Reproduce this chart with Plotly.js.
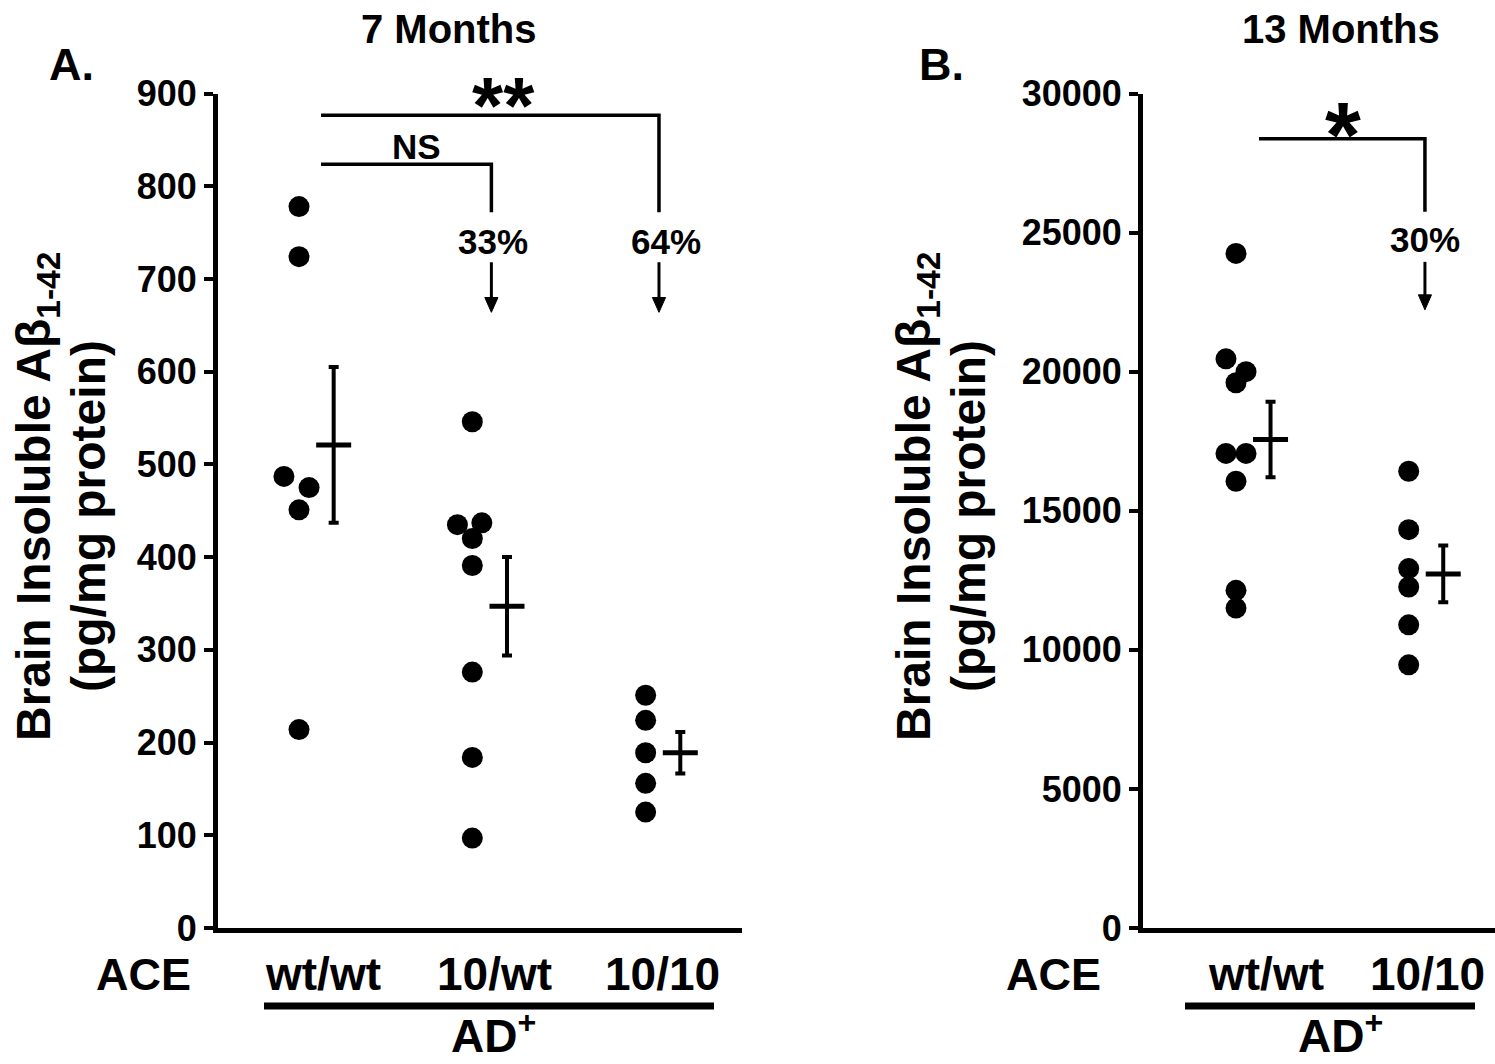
<!DOCTYPE html>
<html>
<head>
<meta charset="utf-8">
<script src="https://cdn.plot.ly/plotly-3.0.1.min.js"></script>
<style>html,body{margin:0;padding:0;background:#ffffff;}</style>
</head>
<body>
<div id="chart" style="width:1495px;height:1064px;"></div>
<script>
// ---------------- DATA ----------------
// Panel A: 7 months
const groupsA = ['wt/wt', '10/wt', '10/10'];
const valuesA_wtwt = [778, 724, 487, 475, 451, 214];
const valuesA_10wt = [546, 437, 435, 420, 391, 276, 184, 97];
const valuesA_1010 = [251, 224, 189, 156, 125];
const meanA = [521, 347, 189];
const semA = [84, 53, 22.5];
const yTicksA = [0, 100, 200, 300, 400, 500, 600, 700, 800, 900];

// Panel B: 13 months
const groupsB = ['wt/wt', '10/10'];
const valuesB_wtwt = [24250, 20460, 20000, 19600, 17060, 17060, 16060, 12140, 11500];
const valuesB_1010 = [16420, 14320, 12920, 12260, 10900, 9460];
const meanB = [17560, 12730];
const semB = [1357, 1020];
const yTicksB = [0, 5000, 10000, 15000, 20000, 25000, 30000];

// Annotation texts
const pctA = ['33%', '64%'];
const pctB = ['30%'];

// ---------------- LAYOUT HELPERS (positions / styles) ----------------
const W = 1495, H = 1064;
const FONT = 'Liberation Sans, Arial, Helvetica, sans-serif';
const px = v => v / W;
const py = v => 1 - v / H;

// horizontal side-by-side offsets of overlapping dots (in category units)
const offA = [
  [0, 0, -0.087, 0.058, 0, 0],
  [0, 0.055, -0.086, 0, 0, 0, 0, 0],
  [0, 0, 0, 0, 0]
];
const offB = [
  [0, -0.058, 0.058, 0, -0.058, 0.058, 0, 0, 0],
  [0, 0, 0, 0, 0, 0]
];
const errShift = 0.2;

function dotTrace(groupVals, offs, xa, ya) {
  const x = [], y = [];
  groupVals.forEach((vals, gi) => {
    vals.forEach((v, i) => { x.push(gi + 1 + offs[gi][i]); y.push(v); });
  });
  return {
    type: 'scatter', mode: 'markers', x: x, y: y, xaxis: xa, yaxis: ya,
    marker: {color: 'black', size: 21, line: {width: 0}},
    cliponaxis: false, hoverinfo: 'skip'
  };
}
function meanTrace(means, sems, xa, ya) {
  return {
    type: 'scatter', mode: 'markers',
    x: means.map((m, i) => i + 1 + errShift), y: means, xaxis: xa, yaxis: ya,
    marker: {symbol: 'line-ew', size: 25, color: 'black', line: {color: 'black', width: 5}},
    error_y: {type: 'data', array: sems, visible: true, color: 'black', thickness: 4, width: 5},
    cliponaxis: false, hoverinfo: 'skip'
  };
}

const traces = [
  dotTrace([valuesA_wtwt, valuesA_10wt, valuesA_1010], offA, 'x', 'y'),
  meanTrace(meanA, semA, 'x', 'y'),
  dotTrace([valuesB_wtwt, valuesB_1010], offB, 'x2', 'y2'),
  meanTrace(meanB, semB, 'x2', 'y2')
];

const axisCommonX = {
  showgrid: false, zeroline: false, showline: true, linewidth: 5, linecolor: 'black',
  ticks: '', showticklabels: false, fixedrange: true
};
const axisCommonY = {
  showgrid: false, zeroline: false, showline: true, linewidth: 5, linecolor: 'black',
  ticks: 'outside', ticklen: 9, tickwidth: 4, tickcolor: 'black', fixedrange: true,
  tickformat: 'd', separatethousands: false, exponentformat: 'none',
  tickfont: {family: FONT, size: 36, color: 'black', weight: 700}
};
const yDom = [1 - 928 / H, 1 - 93.5 / H];

function txt(text, x, y, size, extra) {
  return Object.assign({
    text: '<b>' + text + '</b>', x: x, y: y, xref: 'paper', yref: 'paper',
    xanchor: 'center', yanchor: 'middle', showarrow: false,
    font: {family: FONT, size: size, color: 'black', weight: 700}
  }, extra || {});
}
function dtxt(text, x, y, size, xr, yr) {
  return {
    text: '<b>' + text + '</b>', x: x, y: y, xref: xr, yref: yr,
    xanchor: 'center', yanchor: 'middle', showarrow: false,
    font: {family: FONT, size: size, color: 'black', weight: 700}
  };
}

const labelShiftA = [0.14, 0.13, 0.095];
const labelShiftB = [0.174, 0.106];

const annotations = [
  // titles and panel letters
  txt('7 Months', px(449), py(29), 40),
  txt('13 Months', px(1341), py(29), 40),
  txt('A.', px(71), py(64), 45),
  txt('B.', px(941), py(64), 45),
  // y titles
  txt('Brain Insoluble Aβ<sub>1-42</sub>', px(37), py(497), 48, {textangle: -90}),
  txt('(pg/mg protein)', px(88), py(516), 48, {textangle: -90}),
  txt('Brain Insoluble Aβ<sub>1-42</sub>', px(917), py(497), 48, {textangle: -90}),
  txt('(pg/mg protein)', px(968), py(516), 48, {textangle: -90}),
  // ACE row
  txt('ACE', px(143), py(974), 45),
  txt('ACE', px(1053), py(974), 45),
  txt('AD<sup>+</sup>', px(494), 0, 46, {yanchor: 'bottom'}),
  txt('AD<sup>+</sup>', px(1340), 0, 46, {yanchor: 'bottom'}),
  // significance
  dtxt('**', 2.177, 887, 80, 'x', 'y'),
  dtxt('NS', 1.68, 843, 35, 'x', 'y'),
  dtxt(pctA[0], 2.119, 740, 35, 'x', 'y'),
  dtxt(pctA[1], 3.118, 740, 35, 'x', 'y'),
  dtxt('*', 1.62, 28500, 92, 'x2', 'y2'),
  dtxt(pctB[0], 2.094, 24740, 35, 'x2', 'y2')
];
groupsA.forEach((g, i) => annotations.push(dtxt(g, i + 1 + labelShiftA[i], py(974), 46, 'x', 'paper')));
groupsB.forEach((g, i) => annotations.push(dtxt(g, i + 1 + labelShiftB[i], py(974), 46, 'x2', 'paper')));

const lineStyle = {color: 'black', width: 3.5};
const arrowStyle = {color: 'black', width: 3};
// downward arrow: shaft + filled head, in data units of the panel
function arrowShapes(x, yTail, yHead, halfW, headH, xr, yr) {
  return [
    {type: 'line', xref: xr, yref: yr, x0: x, x1: x, y0: yTail, y1: yHead + headH * 0.5, line: arrowStyle},
    {type: 'path', xref: xr, yref: yr,
     path: 'M' + (x - halfW) + ',' + (yHead + headH) + ' L' + (x + halfW) + ',' + (yHead + headH) + ' L' + x + ',' + yHead + ' Z',
     fillcolor: 'black', line: {color: 'black', width: 1}}
  ];
}

const shapes = [
  {type: 'path', xref: 'x', yref: 'y', path: 'M1.127,876.6 L3.077,876.6 L3.077,772', line: lineStyle},
  {type: 'path', xref: 'x', yref: 'y', path: 'M1.127,823.8 L2.11,823.8 L2.11,772', line: lineStyle},
  {type: 'path', xref: 'x2', yref: 'y2', path: 'M1.133,28370 L2.094,28370 L2.094,25745', line: lineStyle},
  {type: 'line', xref: 'paper', yref: 'paper', x0: px(264), x1: px(714), y0: py(1006), y1: py(1006), line: {color: 'black', width: 7}},
  {type: 'line', xref: 'paper', yref: 'paper', x0: px(1185), x1: px(1475), y0: py(1006), y1: py(1006), line: {color: 'black', width: 7}}
].concat(
  arrowShapes(2.11, 718, 664, 0.038, 16, 'x', 'y'),
  arrowShapes(3.077, 718, 664, 0.038, 16, 'x', 'y'),
  arrowShapes(2.094, 23948, 22222, 0.038, 540, 'x2', 'y2')
);

const layout = {
  width: W, height: H, margin: {l: 0, r: 0, t: 0, b: 0},
  paper_bgcolor: '#ffffff', plot_bgcolor: 'rgba(0,0,0,0)', showlegend: false,
  xaxis: Object.assign({}, axisCommonX, {domain: [218 / W, 742 / W], range: [0.5326, 3.556], anchor: 'y'}),
  yaxis: Object.assign({}, axisCommonY, {domain: yDom, range: [0, 900], tickvals: yTicksA, anchor: 'x'}),
  xaxis2: Object.assign({}, axisCommonX, {domain: [1143 / W, 1], range: [0.4615, 2.4997], anchor: 'y2'}),
  yaxis2: Object.assign({}, axisCommonY, {domain: yDom, range: [0, 30000], tickvals: yTicksB, anchor: 'x2'}),
  annotations: annotations,
  shapes: shapes
};

Plotly.newPlot('chart', traces, layout, {displayModeBar: false, staticPlot: true});
</script>
</body>
</html>
